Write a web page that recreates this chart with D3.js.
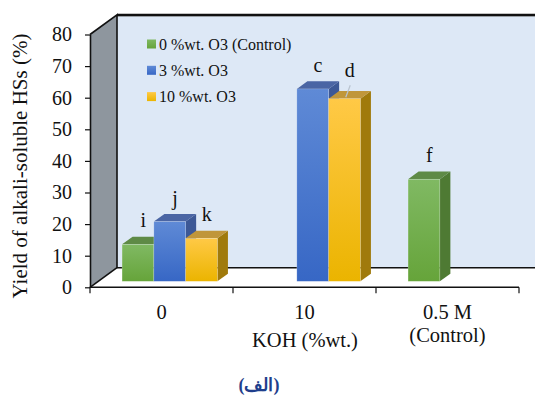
<!DOCTYPE html>
<html>
<head>
<meta charset="utf-8">
<script src="https://cdn.jsdelivr.net/npm/d3@7"></script>
<style>
  html, body { margin: 0; padding: 0; background: #ffffff; }
  svg { display: block; }
  text { font-family: "Liberation Serif", "Times New Roman", serif; fill: #111; }
</style>
</head>
<body>
<svg id="chart" width="535" height="396"></svg>
<script>
// ---- data ----
const categories = ["0", "10", "0.5 M"];
const categorySub = ["", "", "(Control)"];
const seriesNames = ["0 %wt. O3 (Control)", "3 %wt. O3", "10 %wt. O3"];
const controlValues = [11.7, null, 32.3];   // 0 %wt. O3
const o3Low = [18.9, 60.9, null];           // 3 %wt. O3
const o3High = [13.6, 57.8, null];          // 10 %wt. O3
const controlLetters = ["i", null, "f"];
const o3LowLetters = ["j", "c", null];
const o3HighLetters = ["k", "d", null];
const yTicks = [0, 10, 20, 30, 40, 50, 60, 70, 80];

// ---- layout ----
const svg = d3.select("#chart");
const X0 = 90, X1 = 519;           // front floor edge
const Y0 = 287.3, Ytop = 34.5;     // front plane 0 and 80
const DX = 27, DY = -19.6;         // full depth of the plot box
const barFront = 0.305, barDepth = 0.39; // bar position within depth

const x = d3.scaleBand().domain(categories).range([X0, X1]).padding(0);
const xs = d3.scaleBand().domain([0, 1, 2]).range([0, x.bandwidth()])
  .paddingInner(0).paddingOuter(0.75);
const y = d3.scaleLinear().domain([0, 80]).range([Y0, Ytop]);

const palettes = [
  { top: "#80b963", bottom: "#66a43a", cap: "#5e8a46", side: "#4e7a33" },
  { top: "#5f8ad6", bottom: "#3767c5", cap: "#4a65a4", side: "#3c5896" },
  { top: "#ffc946", bottom: "#ebb400", cap: "#c0963a", side: "#a07a0c" }
];

const defs = svg.append("defs");
palettes.forEach((p, i) => {
  const g = defs.append("linearGradient").attr("id", "grad" + i)
    .attr("x1", 0).attr("y1", 0).attr("x2", 0).attr("y2", 1);
  g.append("stop").attr("offset", "0%").attr("stop-color", p.top);
  g.append("stop").attr("offset", "100%").attr("stop-color", p.bottom);
});

// ---- walls and floor ----
const yBack = v => y(v) + DY;
svg.append("polygon") // back wall
  .attr("points", [[X0 + DX, yBack(80)], [535, yBack(80)], [535, yBack(0)], [X0 + DX, yBack(0)]].join(" "))
  .attr("fill", "#dde8f6");
svg.append("polygon") // side wall
  .attr("points", [[X0, y(80)], [X0 + DX, yBack(80)], [X0 + DX, yBack(0)], [X0, y(0)]].join(" "))
  .attr("fill", "#8e969e");
svg.append("polygon") // floor
  .attr("points", [[X0, y(0)], [X0 + DX, yBack(0)], [535, yBack(0)], [535, y(0)]].join(" "))
  .attr("fill", "#ffffff");

const edge = (pts, w) => svg.append("polyline").attr("points", pts.join(" "))
  .attr("fill", "none").attr("stroke", "#111").attr("stroke-width", w || 1.6);
svg.append("line").attr("x1", X0 + DX).attr("x2", 535)
  .attr("y1", yBack(80) + 1.5).attr("y2", yBack(80) + 1.5)
  .attr("stroke", "#9aa0a6").attr("stroke-width", 1.2);
edge([[X0 + DX, yBack(80)], [535, yBack(80)]], 2.2);
edge([[X0, y(80)], [X0 + DX, yBack(80)], [X0 + DX, yBack(0)], [535, yBack(0)]], 1.6);
edge([[X0 + DX, yBack(0)], [X0, y(0)]], 1.6);

// ---- bars ----
const series = [
  { values: controlValues, letters: controlLetters },
  { values: o3Low, letters: o3LowLetters },
  { values: o3High, letters: o3HighLetters }
];
const fx = barFront * DX, fy = barFront * DY;
const bx = barDepth * DX, by = barDepth * DY;
const barW = xs.bandwidth();
const barLayer = svg.append("g");
const labelLayer = svg.append("g");

categories.forEach((cat, ci) => {
  series.forEach((s, si) => {
    const v = s.values[ci];
    if (v == null) return;
    const left = x(cat) + xs(si) + fx;
    const right = left + barW;
    const base = y(0) + fy;
    const top = y(v) + fy;
    const p = palettes[si];
    const g = barLayer.append("g");
    g.append("polygon") // side
      .attr("points", [[right, top], [right + bx, top + by], [right + bx, base + by], [right, base]].join(" "))
      .attr("fill", p.side);
    g.append("polygon") // cap
      .attr("points", [[left, top], [right, top], [right + bx, top + by], [left + bx, top + by]].join(" "))
      .attr("fill", p.cap);
    g.append("rect") // front
      .attr("x", left).attr("y", top).attr("width", barW).attr("height", base - top)
      .attr("fill", "url(#grad" + si + ")")
      .attr("stroke", "rgba(255,255,255,0.35)").attr("stroke-width", 0.6);

    const letter = s.letters[ci];
    if (letter) {
      const cx = left + barW / 2 + bx / 2;
      if (letter === "d") {
        labelLayer.append("line")
          .attr("x1", cx - 4).attr("y1", top - 1.5)
          .attr("x2", cx + 0.5).attr("y2", top - 13.5)
          .attr("stroke", "#b9c3cf").attr("stroke-width", 1.2);
        labelLayer.append("text").attr("x", cx).attr("y", top - 22)
          .attr("text-anchor", "middle").attr("font-size", 20).text(letter);
      } else {
        labelLayer.append("text").attr("x", cx).attr("y", top - 17)
          .attr("text-anchor", "middle").attr("font-size", 20).text(letter);
      }
    }
  });
});

// ---- axes ----
const yAxis = svg.append("g").attr("transform", `translate(${X0},0)`)
  .call(d3.axisLeft(y).tickValues(yTicks).tickSize(5).tickPadding(13).tickSizeOuter(0));
yAxis.select(".domain").attr("stroke", "#111").attr("stroke-width", 1.6);
yAxis.selectAll(".tick line").attr("stroke", "#111").attr("stroke-width", 1.2);
yAxis.selectAll(".tick text").attr("font-size", 20)
  .attr("font-family", "Liberation Serif, Times New Roman, serif").attr("fill", "#111");

const xAxis = svg.append("g").attr("transform", `translate(0,${Y0})`);
xAxis.append("line").attr("x1", X0).attr("x2", X1).attr("y1", 0).attr("y2", 0)
  .attr("stroke", "#111").attr("stroke-width", 1.6);
const boundaries = categories.map(c => x(c)).concat([X1]);
xAxis.selectAll("line.tk").data(boundaries).join("line").attr("class", "tk")
  .attr("x1", d => d).attr("x2", d => d).attr("y1", 0).attr("y2", 6)
  .attr("stroke", "#111").attr("stroke-width", 1.2);
categories.forEach((c, i) => {
  const cx = x(c) + x.bandwidth() / 2;
  svg.append("text").attr("x", cx).attr("y", 319).attr("text-anchor", "middle")
    .attr("font-size", 20.5).text(c);
  if (categorySub[i]) {
    svg.append("text").attr("x", cx).attr("y", 342).attr("text-anchor", "middle")
      .attr("font-size", 20.5).text(categorySub[i]);
  }
});
svg.append("text").attr("x", 305).attr("y", 347).attr("text-anchor", "middle")
  .attr("font-size", 20.5).text("KOH (%wt.)");

svg.append("text")
  .attr("transform", "translate(27,166) rotate(-90)")
  .attr("text-anchor", "middle").attr("font-size", 21)
  .text("Yield of alkali-soluble HSs (%)");

// ---- legend ----
const legend = svg.append("g");
seriesNames.forEach((name, i) => {
  const ly = 44 + i * 26.3;
  legend.append("rect").attr("x", 147).attr("y", ly - 4.5).attr("width", 9).attr("height", 9)
    .attr("fill", `url(#grad${i})`);
  legend.append("text").attr("x", 159).attr("y", ly + 5.5).attr("font-size", 16).text(name);
});

// ---- panel tag ----
svg.append("text").attr("x", 259).attr("y", 391).attr("text-anchor", "middle")
  .attr("direction", "rtl")
  .attr("font-family", "DejaVu Sans, Noto Sans, sans-serif")
  .attr("font-weight", "bold").attr("font-size", 18).style("fill", "#1f3f8c")
  .text("(الف)");
</script>
</body>
</html>
